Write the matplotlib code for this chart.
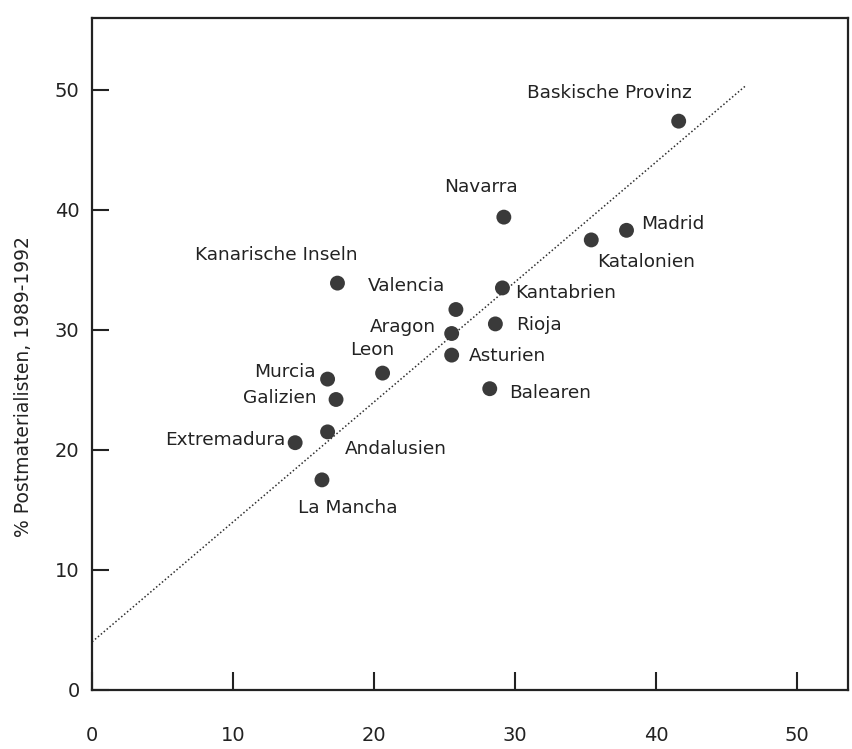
import matplotlib
matplotlib.use("Agg")
import matplotlib.pyplot as plt

regions = ["Baskische Provinz", "Navarra", "Madrid", "Katalonien", "Kanarische Inseln",
           "Kantabrien", "Valencia", "Rioja", "Aragon", "Asturien", "Leon", "Murcia",
           "Balearen", "Galizien", "Andalusien", "Extremadura", "La Mancha"]
x_vals = [41.6, 29.2, 37.9, 35.4, 17.4, 29.1, 25.8, 28.6, 25.5, 25.5, 20.6, 16.7,
          28.2, 17.3, 16.7, 14.4, 16.3]
y_vals = [47.4, 39.4, 38.3, 37.5, 33.9, 33.5, 31.7, 30.5, 29.7, 27.9, 26.4, 25.9,
          25.1, 24.2, 21.5, 20.6, 17.5]
fit_intercept = 4.0
fit_slope = 1.0
fit_x_range = [0, 46.3]
ticks = [0, 10, 20, 30, 40, 50]

# label offsets in pixels (dx, dy) and horizontal alignment
label_style = {
    "Baskische Provinz": (-69, 28, "center"),
    "Navarra": (-23, 30, "center"),
    "Madrid": (15, 6, "left"),
    "Katalonien": (6, -22, "left"),
    "Kanarische Inseln": (-61, 28, "center"),
    "Valencia": (-11, 24, "right"),
    "Kantabrien": (13, -5, "left"),
    "Aragon": (-16, 7, "right"),
    "Rioja": (21, -1, "left"),
    "Leon": (-10, 23, "center"),
    "Asturien": (17, -1, "left"),
    "Murcia": (-12, 7, "right"),
    "Galizien": (-19, 1, "right"),
    "Balearen": (19, -4, "left"),
    "Extremadura": (-10, 3, "right"),
    "Andalusien": (17, -17, "left"),
    "La Mancha": (26, -28, "center"),
}

plt.rcParams['font.family'] = ['DejaVu Sans']
fig = plt.figure(figsize=(8.53, 7.49), dpi=100)
ax = fig.add_axes([0.108, 0.079, 0.886, 0.897])

ink = "#2e2e2e"
ax.plot(fit_x_range, [fit_intercept + fit_slope * v for v in fit_x_range],
        linestyle=(0, (1, 1.5)), color=ink, linewidth=1.1, zorder=2)
ax.scatter(x_vals, y_vals, s=115, color="#3a3a3a", zorder=3, edgecolors="none")

for name, xv, yv in zip(regions, x_vals, y_vals):
    dx, dy, ha = label_style[name]
    ax.annotate(name, (xv, yv), xytext=(dx, dy), textcoords="offset pixels",
                ha=ha, va="center", fontsize=13.3, color="#222222")

ax.set_xlim(0, 53.6)
ax.set_ylim(0, 56)
ax.set_xticks(ticks)
ax.set_yticks(ticks)
ax.tick_params(axis="x", direction="in", length=13, width=1.5, pad=26,
               labelsize=14, colors="#222222")
ax.tick_params(axis="y", direction="in", length=12, width=1.5, pad=9,
               labelsize=14, colors="#222222")
for s in ax.spines.values():
    s.set_linewidth(1.6)
    s.set_color("#222222")

ax.set_ylabel("% Postmaterialisten, 1989-1992", fontsize=13.5, color="#222222")
ax.yaxis.set_label_coords(-0.078, 0.452)

fig.savefig("out.png", dpi=100, facecolor="white")
